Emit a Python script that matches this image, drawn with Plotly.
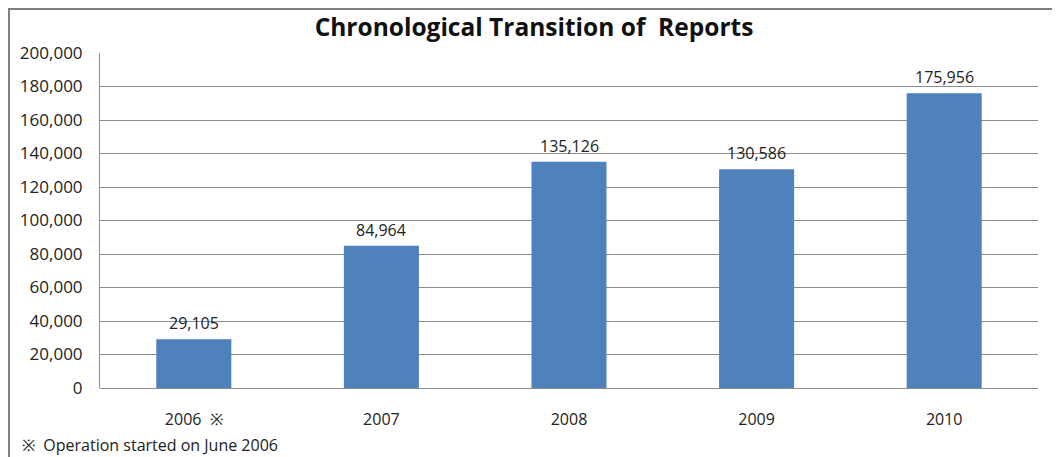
import plotly.graph_objects as go

years = ["2006 ※", "2007", "2008", "2009", "2010"]
x_tick_labels = ["2006\u00a0\u00a0※", "2007", "2008", "2009", "2010"]
reports = [29105, 84964, 135126, 130586, 175956]
y_ticks = [0, 20000, 40000, 60000, 80000, 100000, 120000, 140000, 160000, 180000, 200000]
y_tick_labels = ["0", "20,000", "40,000", "60,000", "80,000", "100,000", "120,000",
                 "140,000", "160,000", "180,000", "200,000"]
title_text = "Chronological Transition of  Reports"
footnote = "※\u00a0 Operation started on June 2006"

FONT = "Open Sans"
TXT = "#222222"
# page body has an 8px margin, so the figure is sized for the remaining area
W, H = 1052, 449
L, R, T, B = 92, 22, 45, 69
pw, ph = W - L - R, H - T - B

fig = go.Figure(go.Bar(
    x=years, y=reports,
    marker=dict(color="#4F81BD", line=dict(width=0)),
    hoverinfo="x+y",
))

# value labels placed on the category axis by category index
label_annotations = [
    dict(x=i, y=yv, xref="x", yref="y", text=f"{yv:,}", showarrow=False,
         yanchor="bottom", yshift=3,
         font=dict(family=FONT, size=16, color=TXT))
    for i, yv in enumerate(reports)
]

fig.update_layout(
    width=W, height=H,
    margin=dict(l=L, r=R, t=T, b=B),
    paper_bgcolor="white", plot_bgcolor="white",
    bargap=0.6,
    showlegend=False,
    font=dict(family=FONT, size=16, color=TXT),
    title=dict(text="<b>" + title_text + "</b>", x=0.5, xanchor="center",
               y=1 - 19 / H, yanchor="middle",
               font=dict(family=FONT, size=24.5, color="#111111")),
    xaxis=dict(type="category", categoryorder="array", categoryarray=years,
               tickvals=years, ticktext=x_tick_labels,
               range=[-0.5, len(years) - 0.5],
               showgrid=False, showline=False, ticks="", ticklabelstandoff=20,
               tickfont=dict(family=FONT, size=16, color=TXT)),
    yaxis=dict(range=[0, 200000], tickvals=y_ticks, ticktext=y_tick_labels,
               showgrid=True, gridcolor="#8c8c8c", gridwidth=1,
               showline=True, linecolor="#8c8c8c", linewidth=1,
               zeroline=True, zerolinecolor="#8c8c8c", zerolinewidth=1,
               ticks="", ticklabelstandoff=13,
               tickfont=dict(family=FONT, size=17, color=TXT)),
    shapes=[dict(type="rect", xref="paper", yref="paper",
                 x0=(1 - L) / pw, x1=1.2, y0=-0.5, y1=(H - B - 1) / ph,
                 line=dict(color="#7f7f7f", width=2), fillcolor="rgba(0,0,0,0)",
                 layer="below")],
    annotations=label_annotations + [
        dict(text=footnote, xref="paper", yref="paper",
             x=(12 - L) / pw, y=-57 / ph,
             xanchor="left", yanchor="middle", showarrow=False,
             font=dict(family=FONT, size=16, color=TXT))],
)

fig.write_html("out.html")
